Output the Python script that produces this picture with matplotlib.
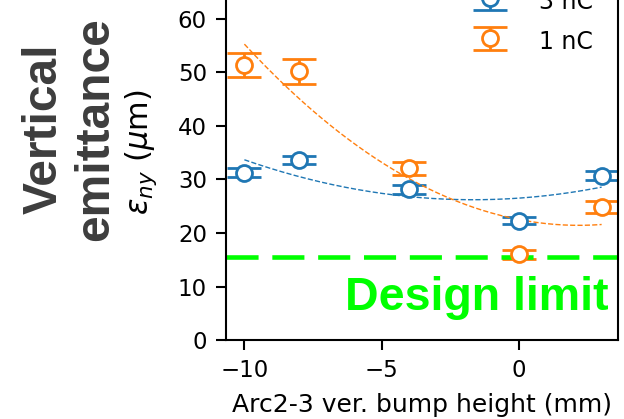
import numpy as np
import matplotlib.pyplot as plt

bump = [-10, -8, -4, 0, 3]
emit_3nc = [31.3, 33.6, 28.2, 22.3, 30.7]
err_3nc = [0.8, 0.8, 0.85, 0.7, 0.8]
emit_1nc = [51.4, 50.2, 32.1, 16.0, 24.9]
err_1nc = [2.3, 2.3, 1.2, 0.85, 1.1]
design_limit = 15.5

C3, C1 = '#1f77b4', '#ff7f0e'

for a in ('xtick', 'ytick'):
    plt.rcParams[a + '.labelsize'] = 16.5
    plt.rcParams[a + '.major.size'] = 7
    plt.rcParams[a + '.major.width'] = 1.5
    plt.rcParams[a + '.major.pad'] = 6.5
plt.rcParams['axes.linewidth'] = 1.5

fig = plt.figure(figsize=(6.24, 4.19), dpi=100)
ax = fig.add_axes([0.3617, 0.1885, 0.628, 0.894])

style = dict(fmt='o', ms=11.5, mfc='white', mew=2, capsize=12.5, capthick=2, elinewidth=2)
h3 = ax.errorbar(bump, emit_3nc, yerr=err_3nc, color=C3, label='3 nC', **style)
h1 = ax.errorbar(bump, emit_1nc, yerr=err_1nc, color=C1, label='1 nC', **style)

# quadratic fits
xf = np.linspace(-10, 3, 200)
for y, c in [(emit_3nc, C3), (emit_1nc, C1)]:
    p = np.polyfit(bump, y, 2)
    ax.plot(xf, np.polyval(p, xf), '--', color=c, lw=1)

ax.axhline(design_limit, color='lime', lw=3.3, dashes=(7, 3))
ax.text(3.24, 5.6, 'Design limit', color='lime', fontsize=33.5, fontweight='bold',
        family='Liberation Sans', ha='right', va='baseline')

ax.set_xlim(-10.68, 3.58)
ax.set_ylim(0, 70)
ax.set_yticks(range(0, 70, 10))
ax.set_xticks([-10, -5, 0])
ax.set_xlabel('Arc2-3 ver. bump height (mm)', fontsize=18, labelpad=8)
ax.set_ylabel(r'$\varepsilon_{ny}$ ($\mu$m)', fontsize=22)
ax.yaxis.set_label_coords(-0.17, 0.5)

fig.text(0.112, 0.692, 'Vertical\nemittance', rotation=90, ha='center', va='center',
         multialignment='center', fontsize=34.5, fontweight='bold',
         family='Liberation Sans', color='#3d3d3d')

ax.legend(frameon=False, fontsize=17, loc='lower right', handleheight=1.3,
          labelspacing=0.6, handletextpad=1.1,
          bbox_to_anchor=(0.985, (419 - 75) / 419), bbox_transform=fig.transFigure)

fig.savefig('out.png', dpi=100)
